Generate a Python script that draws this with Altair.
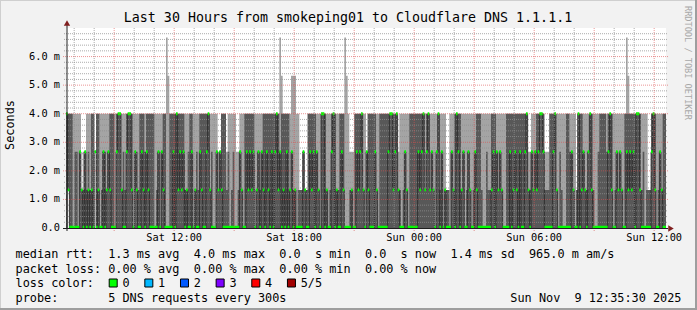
import altair as alt
import pandas as pd

# ---------------- data ----------------
# DNS round-trip times are quantised; these are the levels (ms)
LEVELS_MS = [0.0, 1.333, 2.667, 4.0, 5.333, 6.667]

# one character per 5-minute step (360 steps = 30 h), value = index into LEVELS_MS
MEDIAN_LVL = [
    "3100000021", "0201010201", "0020121000", "2331002331", "0210021021", "0000020210",
    "0000203121", "2010020100", "2100231000", "2121000000", "0000210021", "2120120210",
    "2102023120", "1020120100", "0021002120", "2103301002", "3010021000", "0100212310",
    "2100021000", "0002331231", "0002100000", "0212312312", "1023020100", "0210320120",
    "0210021000", "0000012021", "2100002012", "1020023102", "1212332000", "0023100000",
    "0002100301", "2102310000", "0000023100", "2121002121", "2033100000", "0231002100",
]
DARK_TOP_LVL = [
    "3333022021", "1212133233", "0122123330", "3331213333", "0221333233", "3330120233",
    "0033333333", "3112330121", "3333331200", "2123331201", "2001210333", "3330121233",
    "3333333323", "3333121101", "1121133333", "2103331013", "3311333000", "1103333310",
    "2333331033", "3333333331", "1012103333", "3333313312", "1023120111", "0213333120",
    "1210123331", "0021133321", "2100333333", "3333333112", "1233333111", "3333102100",
    "3322101333", "2112331002", "3333233301", "2121033333", "3333312011", "1333012133",
]
LIGHT_TOP_LVL = [
    "3333333331", "2233333233", "3333333333", "3333333333", "3333333333", "3333333333",
    "5433333333", "3333333333", "3333333333", "3223332333", "3322333333", "3333333333",
    "3333333354", "3333344433", "1121133333", "3333333333", "3333333543", "2223333333",
    "2333333333", "3333333332", "3333333333", "3333333333", "3333333311", "3333333333",
    "3333333333", "3333333333", "3333333333", "3333333223", "3333333222", "3333333333",
    "3333331333", "3333333333", "3333333333", "3333335433", "3333333331", "1333333333",
]
DARK_BOTTOM_LVL = [
    "0100000000", "0000000200", "0000000000", "0000000000", "0000000000", "0000000000",
    "0000000000", "0000000000", "0000000000", "0000000000", "0000000000", "0000000000",
    "0000000000", "0000000000", "0000000000", "0000000000", "0000000000", "0000000000",
    "0000000000", "0000000000", "0000000000", "0000000000", "0000000000", "0000000000",
    "0000000000", "0000000000", "0000000000", "0000000000", "0000000000", "0000000000",
    "0000000000", "0000000000", "0000000000", "0000000000", "0000000000", "0000000000",
]
LIGHT_BOTTOM_LVL = [
    "0100000000", "0000000200", "0000000000", "0000000000", "0000000000", "0000000000",
    "0000000000", "0000000000", "0000000000", "0000000000", "0000000000", "0000000000",
    "0000000000", "0000000000", "0000000000", "0000000000", "0000000000", "0000000000",
    "0000000000", "0000000000", "0000000000", "0000000000", "0000000000", "0000000000",
    "0000000000", "0000000000", "0000000000", "0000000000", "0000000000", "0000000000",
    "0000000000", "0000000000", "0000000000", "0000000000", "0000000000", "0000000000",
]

STEP_MIN = 5
SPAN_H = 30
START_HOUR = 6 + 35.5 / 60          # Sat 06:35:30
Y_TOP_MS = 7.0

Y_TICKS_MS = [0, 1, 2, 3, 4, 5, 6]
Y_TICK_LABELS = ["0.0", "1.0 m", "2.0 m", "3.0 m", "4.0 m", "5.0 m", "6.0 m"]
X_TICK_HOURS = [12, 18, 24, 30, 36]   # hours after Sat 00:00
X_TICK_LABELS = ["Sat 12:00", "Sat 18:00", "Sun 00:00", "Sun 06:00", "Sun 12:00"]

TITLE = "Last 30 Hours from smokeping01 to Cloudflare DNS 1.1.1.1"
LINE_RTT = "median rtt:  1.3 ms avg  4.0 ms max  0.0  s min  0.0  s now  1.4 ms sd  965.0 m am/s"
LINE_LOSS = "packet loss: 0.00 % avg  0.00 % max  0.00 % min  0.00 % now"
LOSS_LABEL = "loss color:"
LOSS_NAMES = ["0", "1", "2", "3", "4", "5/5"]
LOSS_COLORS = ["#00ff00", "#00b8ff", "#0059ff", "#7e00ff", "#ff0000", "#a10000"]
PROBE = "probe:       5 DNS requests every 300s"
STAMP = "Sun Nov  9 12:35:30 2025"
WATERMARK = "RRDTOOL / TOBI OETIKER"

# ---------------- build tables ----------------
def expand(segs):
    return [int(c) for c in "".join(segs)]

med = expand(MEDIAN_LVL)
dtop = expand(DARK_TOP_LVL)
ltop = expand(LIGHT_TOP_LVL)
dbot = expand(DARK_BOTTOM_LVL)
lbot = expand(LIGHT_BOTTOM_LVL)
n = len(med)

GREEN_HALF = 0.05  # half thickness of median marker (ms)
rows = []
for i in range(n + 1):
    j = min(i, n - 1)
    m = LEVELS_MS[med[j]]
    lo = m - GREEN_HALF if m > 0 else 0.0
    hi = m + GREEN_HALF if m > 0 else 1.6 * GREEN_HALF
    rows.append(dict(
        t=i * STEP_MIN / 60.0,
        p1=LEVELS_MS[lbot[j]], p2=LEVELS_MS[dbot[j]],
        p4=LEVELS_MS[dtop[j]], p5=LEVELS_MS[ltop[j]],
        m=m, mlo=lo, mhi=hi,
    ))
smoke = pd.DataFrame(rows)

W, H = 600, 200
FONT = "DejaVu Sans Mono"
xs = alt.Scale(domain=[0, SPAN_H], nice=False, zero=False)
ys = alt.Scale(domain=[0, Y_TOP_MS], nice=False)

def X(f):
    return alt.X(f, type="quantitative", scale=xs, axis=None)

def Y(f):
    return alt.Y(f, type="quantitative", scale=ys, axis=None)

base = alt.Chart(smoke)
light = base.mark_area(interpolate="step-after", color="#a4a4a4", clip=True).encode(
    x=X("t"), y=Y("p1"), y2="p5")
dark = base.mark_area(interpolate="step-after", color="#585858", clip=True).encode(
    x=X("t"), y=Y("p2"), y2="p4")
medline = base.mark_line(interpolate="step-after", color="#1a1a1a", strokeWidth=0.8,
                         opacity=0.85, clip=True).encode(
    x=X("t"), y=Y("m"))
green = base.mark_area(interpolate="step-after", color="#00ff00", clip=True).encode(
    x=X("t"), y=Y("mlo"), y2="mhi")

# grid
hrs = pd.DataFrame({"h": list(range(7, 37))})
hrs["t"] = hrs["h"] - START_HOUR
hrs["major"] = hrs["h"] % 3 == 0
vminor = alt.Chart(hrs[~hrs["major"]]).mark_rule(
    color="#8f8f8f", opacity=0.75, strokeDash=[1, 1], strokeWidth=1).encode(
    x=X("t"), y=alt.value(0), y2=alt.value(H))
vmajor = alt.Chart(hrs[hrs["major"]]).mark_rule(
    color="#de4f4f", opacity=0.6, strokeDash=[1, 1], strokeWidth=1).encode(
    x=X("t"), y=alt.value(0), y2=alt.value(H + 3))

vals = [round(k * 0.2, 1) for k in range(1, 35)]
hg = pd.DataFrame({"v": vals})
hg["major"] = hg["v"].apply(lambda v: abs(v - round(v)) < 1e-6)
hminor = alt.Chart(hg[~hg["major"]]).mark_rule(
    color="#8f8f8f", opacity=0.75, strokeDash=[1, 1], strokeWidth=1).encode(
    y=Y("v"), x=alt.value(-2), x2=alt.value(W + 2))
hmajor = alt.Chart(hg[hg["major"]]).mark_rule(
    color="#de4f4f", opacity=0.6, strokeDash=[1, 1], strokeWidth=1).encode(
    y=Y("v"), x=alt.value(-3), x2=alt.value(W + 2))

one = pd.DataFrame({"a": [0]})
xaxis = alt.Chart(one).mark_rule(color="#1f1f1f", strokeWidth=1).encode(
    x=alt.value(-3), x2=alt.value(W + 2), y=alt.value(H + 0.5))
yaxis = alt.Chart(one).mark_rule(color="#1f1f1f", strokeWidth=1).encode(
    x=alt.value(1), y=alt.value(H + 3), y2=alt.value(-4))
arrow_up = alt.Chart(one).mark_point(shape="triangle-up", filled=True, size=40,
                                     color="#801f1f", opacity=1).encode(
    x=alt.value(1), y=alt.value(-5))
arrow_right = alt.Chart(one).mark_point(shape="triangle-right", filled=True, size=40,
                                        color="#801f1f", opacity=1).encode(
    x=alt.value(W + 5), y=alt.value(H + 0.5))

# axis labels
ytl = pd.DataFrame({"v": Y_TICKS_MS, "lab": Y_TICK_LABELS})
ylabels = alt.Chart(ytl).mark_text(font=FONT, fontSize=10.3, align="right",
                                   baseline="middle", color="#000000").encode(
    x=alt.value(-6), y=Y("v"), text="lab:N")
xtl = pd.DataFrame({"h": X_TICK_HOURS, "lab": X_TICK_LABELS})
xtl["t"] = xtl["h"] - START_HOUR
xlabels = alt.Chart(xtl).mark_text(font=FONT, fontSize=10.3, align="center",
                                   baseline="middle", color="#000000").encode(
    x=X("t"), y=alt.value(H + 10), text="lab:N")

OX, OY = 66, 28  # plot origin in the page
CW = 7.13        # monospace advance of the legend font


def txt(s, x, y, size=11.85, align="left", angle=0, color="#000000"):
    return alt.Chart(one).mark_text(
        text=s.replace(" ", "\u00a0"), font=FONT, fontSize=size, align=align,
        baseline="middle", angle=angle, color=color).encode(
        x=alt.value(x - OX), y=alt.value(y - OY))


LX = 15.5
texts = [
    txt(TITLE, 348, 18, size=13.3, align="center"),
    txt("Seconds", 10, 125, align="center", angle=270),
    txt(LINE_RTT, LX, 254),
    txt(LINE_LOSS, LX, 268.5),
    txt(LOSS_LABEL, LX, 283),
    txt(PROBE, LX, 297.5),
    txt(STAMP, 681.5, 297.5, align="right"),
    txt(WATERMARK, 688, 6, size=8.6, align="left", angle=90, color="#a8a8a8"),
]
boxes = []
for i, (nm, col) in enumerate(zip(LOSS_NAMES, LOSS_COLORS)):
    bx = LX + (13 + 5 * i) * CW + 1
    boxes.append(alt.Chart(one).mark_rect(color=col, stroke="#000000", strokeWidth=1).encode(
        x=alt.value(bx - OX), x2=alt.value(bx + 8 - OX),
        y=alt.value(279 - OY), y2=alt.value(287 - OY)))
    texts.append(txt(nm, LX + (15 + 5 * i) * CW, 283))

# 3-D frame of the picture
frame = [
    alt.Chart(one).mark_rule(color="#cfcfcf", strokeWidth=1).encode(
        x=alt.value(-OX), x2=alt.value(697 - OX), y=alt.value(0.5 - OY)),
    alt.Chart(one).mark_rule(color="#cfcfcf", strokeWidth=1).encode(
        x=alt.value(0.5 - OX), y=alt.value(-OY), y2=alt.value(310 - OY)),
    alt.Chart(one).mark_rule(color="#9e9e9e", strokeWidth=2).encode(
        x=alt.value(-OX), x2=alt.value(697 - OX), y=alt.value(309 - OY)),
    alt.Chart(one).mark_rule(color="#9e9e9e", strokeWidth=2).encode(
        x=alt.value(696 - OX), y=alt.value(-OY), y2=alt.value(310 - OY)),
]

chart = alt.layer(
    light, dark, medline, green,
    vminor, hminor, vmajor, hmajor,
    xaxis, yaxis, arrow_up, arrow_right,
    ylabels, xlabels, *boxes, *texts, *frame,
).properties(
    width=W, height=H,
    background="#f2f2f2",
    padding={"left": OX, "top": OY, "right": 697 - OX - W, "bottom": 310 - OY - H},
    autosize=alt.AutoSizeParams(type="none"),
).configure_view(fill="#ffffff", stroke=None)

chart.save("out.html", embed_options={"renderer": "svg", "actions": False})
